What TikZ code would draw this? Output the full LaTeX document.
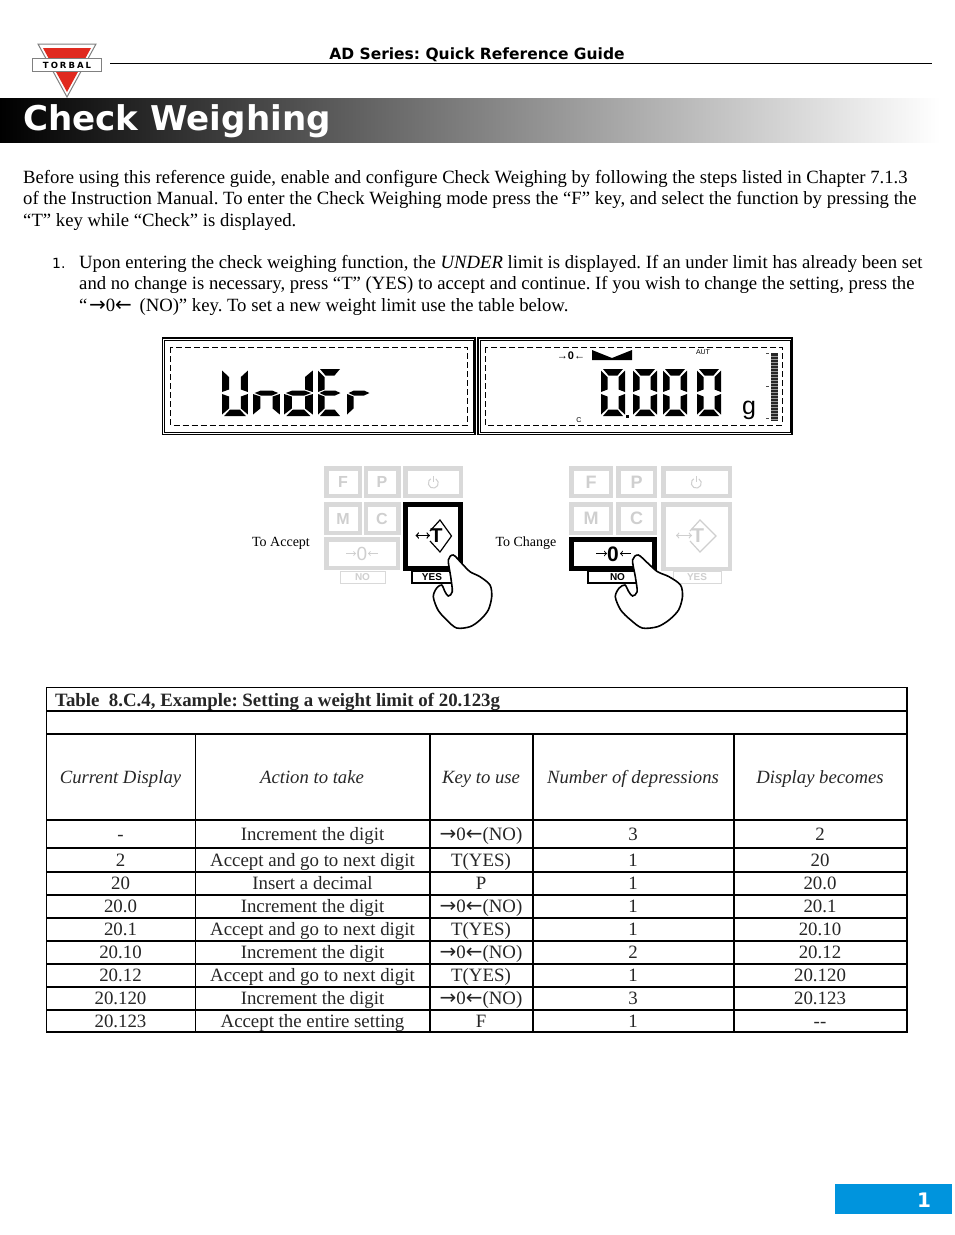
\documentclass[tikz,border=0pt]{standalone}
\usepackage{fontspec}
\usepackage{tikz}
\setmainfont{Liberation Serif}
\setsansfont{Liberation Sans}
\newfontfamily\headfont{DejaVu Sans}

\definecolor{keygray}{HTML}{D9D9D9}
\definecolor{labelgray}{HTML}{CFCFCF}
\definecolor{torbalred}{HTML}{E02A1F}
\definecolor{pageblue}{HTML}{0094DD}

\newcommand{\zeroarrow}{{\headfont\fontsize{20}{15}\selectfont →}0{\headfont\fontsize{20}{15}\selectfont ←}}
\newcommand{\lcddigit}[4][1]{\foreach \s in {#4} \pic[xscale=#1] at (#2,#3) {seg\s};}

\tikzset{
    bodytext/.style={anchor=base west,inner sep=0,font=\fontsize{18.7}{21}\selectfont},
    graykey/.style={draw=keygray,line width=4.5pt,fill=white,inner sep=0,text=labelgray,font=\sffamily\bfseries\fontsize{16}{16}\selectfont},
    graykeybig/.style={graykey,font=\sffamily\bfseries\fontsize{18}{18}\selectfont},
    darkkey/.style={draw=black,line width=5pt,fill=white,inner sep=0,font=\sffamily\bfseries\fontsize{18}{18}\selectfont},
    graytag/.style={draw=keygray,line width=1pt,fill=white,inner sep=0,text=labelgray,font=\sffamily\bfseries\fontsize{10}{10}\selectfont},
    darktag/.style={draw=black,line width=1.5pt,fill=white,inner sep=0,font=\sffamily\bfseries\fontsize{10}{10}\selectfont},
    tablecell/.style={anchor=base,yshift=-5.8pt,inner sep=0,text=black!85,font=\fontsize{18.85}{20}\selectfont},
    tablehead/.style={tablecell,font=\itshape\fontsize{18.7}{20}\selectfont},
    sega/.pic={\fill (2,0) -- (22,0) -- (16.5,6.5) -- (7.5,6.5) -- cycle;},
    segb/.pic={\fill (24,1.5) -- (17.5,8) -- (17.5,20.5) -- (24,23) -- cycle;},
    segc/.pic={\fill (24,25) -- (17.5,27.5) -- (17.5,39.5) -- (24,45.5) -- cycle;},
    segd/.pic={\fill (2,47) -- (7.5,40.5) -- (16.5,40.5) -- (22,47) -- cycle;},
    sege/.pic={\fill (0,25) -- (6.5,27.5) -- (6.5,39.5) -- (0,45.5) -- cycle;},
    segf/.pic={\fill (0,1.5) -- (6.5,8) -- (6.5,20.5) -- (0,23) -- cycle;},
    segg/.pic={\fill (1.5,24) -- (7,21.5) -- (17,21.5) -- (22.5,24) -- (17,26.5) -- (7,26.5) -- cycle;},
    powersym/.pic={\draw[labelgray,line width=1pt] (2.8,-4.2) arc (60:-240:5pt); \draw[labelgray,line width=1pt] (0,-7) -- (0,-1);},
    hand/.pic={\draw[black,line width=1.6pt,fill=white] plot[smooth cycle,tension=0.5] coordinates {
        (-5,5) (0,0) (8.4,8.3) (16.7,16.7) (26.7,21.7) (36.7,30) (38.4,41.7) (35,55)
        (26.7,65) (16.7,71.7) (3.4,73) (-6.6,65) (-15.3,55) (-20,41.7) (-16.6,33)
        (-11.6,30) (-8.3,36.7) (-5,41) (-1,36.7) (-2.6,21.7)};},
}

\begin{document}
\frenchspacing
\begin{tikzpicture}[x=1pt,y=-1pt]
        \useasboundingbox (0,0) rectangle (954,1235);

        % Logo and running head
        \fill[white,draw=gray,line width=1pt] (38,44) -- (96,44) -- (67,97) -- cycle;
        \fill[torbalred] (43,48) -- (91,48) -- (67,92) -- cycle;
        \node (logoband) at (67,65) [draw=gray,line width=1pt,fill=white,minimum width=69,minimum height=13,inner sep=0,font=\headfont\bfseries\fontsize{8.5}{8}\selectfont] {T\kern2pt O\kern2pt R\kern2pt B\kern2pt A\kern2pt L};
        \draw[line width=0.9pt] (110,63.5) -- (932,63.5);
        \node (runhead) at (477,54.6) [inner sep=0,font=\headfont\bfseries\fontsize{15.5}{15}\selectfont] {AD Series: Quick Reference Guide};

        % Title bar
        \shade[left color=black,right color=white] (0,98) rectangle (940,142.7);
        \node (title) at (23,130) [anchor=base west,inner sep=0,text=white,font=\headfont\bfseries\fontsize{34.1}{34}\selectfont] {Check Weighing};

        % Body text
        \node (intro1) at (23,183) [bodytext] {Before using this reference guide, enable and configure Check Weighing by following the steps listed in Chapter 7.1.3};
        \node (intro2) at (23,204) [bodytext] {of the Instruction Manual. To enter the Check Weighing mode press the “F” key, and select the function by pressing the};
        \node (intro3) at (23,226) [bodytext] {“T” key while “Check” is displayed.};
        \node (stepnum) at (52,268) [anchor=base west,inner sep=0,font=\headfont\fontsize{14}{14}\selectfont] {1.};
        \node (step1) at (79,268) [bodytext] {Upon entering the check weighing function, the \textit{UNDER} limit is displayed. If an under limit has already been set};
        \node (step2) at (79,289) [bodytext] {and no change is necessary, press “T” (YES) to accept and continue. If you wish to change the setting, press the};
        \node (step3) at (79,311) [bodytext] {“\kern1.5pt\zeroarrow{}\kern3pt{} (NO)” key. To set a new weight limit use the table below.};

        % Display panels
        \draw[line width=1.5pt] (162.5,338) rectangle (475,434.5);
        \draw[line width=0.7pt] (164.5,340) rectangle (473,432.5);
        \draw[line width=1pt,dash pattern=on 6pt off 3pt] (170.5,347) rectangle (467,425);
        \draw[line width=1.5pt] (478,338) rectangle (792,434.5);
        \draw[line width=0.7pt] (480,340) rectangle (790,432.5);
        \draw[line width=1pt,dash pattern=on 6pt off 3pt] (485,347) rectangle (782,425);

        \lcddigit[1.08]{222}{369}{b,c,d,e,f}
        \lcddigit[1.12]{253}{369}{c,e,g}
        \lcddigit[1.2]{284}{369}{b,c,d,e,g}
        \lcddigit{318}{369}{a,d,e,f,g}
        \lcddigit{347}{369}{e,g}
        \foreach \x in {601,633,663,697}
            \lcddigit{\x}{369}{a,b,c,d,e,f}
        \fill (625.5,414.5) rectangle (628.5,417.5);
        \node (unitg) at (749,414) [anchor=base,inner sep=0,font=\sffamily\fontsize{25}{25}\selectfont] {g};
        \node (zerotag) at (571,356) [inner sep=0,font=\sffamily\bfseries\fontsize{11}{11}\selectfont] {→0←};
        \fill (592,350) -- (612,358) -- (632,350) -- (632,360) -- (592,360) -- cycle;
        \node (auttag) at (703,352) [inner sep=0,font=\sffamily\fontsize{7}{7}\selectfont] {AUT};
        \node (ctag) at (579,420) [inner sep=0,font=\sffamily\fontsize{7}{7}\selectfont] {C};
        \fill[black!85] (771,353) rectangle (778,421);
        \foreach \y in {356,359,...,420}
            \draw[white!60!black,line width=0.3pt] (771,\y) -- (778,\y);
        \foreach \y in {353,386,418}
            \draw[line width=0.8pt,black!70] (766,\y) -- (769,\y);

        % Left keypad
        \node (Lfkey)  at (343,482) [graykey,minimum width=33.5,minimum height=27.5] {F};
        \node (Lpkey)  at (382,482) [graykey,minimum width=32.5,minimum height=27.5] {P};
        \node (Lpower) at (433,482) [graykey,minimum width=55.5,minimum height=27.5] {};
        \node (Lmkey)  at (343,518.5) [graykey,minimum width=33.5,minimum height=28.5] {M};
        \node (Lckey)  at (382,518.5) [graykey,minimum width=32.5,minimum height=28.5] {C};
        \node (Lzero)  at (362,553.5) [graykey,minimum width=71.5,minimum height=28.5,font=\sffamily\fontsize{19}{19}\selectfont] {0};
        \draw[->,labelgray,line width=0.9pt] (346,553.5) -- (356,553.5);
        \draw[->,labelgray,line width=0.9pt] (378,553.5) -- (368,553.5);
        \node (Lnotag) at (362.5,577) [graytag,minimum width=45,minimum height=12] {NO};
        \node (Lyestag) at (432,577) [darktag,minimum width=40,minimum height=12] {YES};
        \node (Ltare)  at (433,536.5) [darkkey,minimum width=55,minimum height=64] {};
        \pic at (433,483) {powersym};
        \draw[line width=1.2pt] (430,531) -- (440,520) -- (451.5,536) -- (440,552) -- (430,541);
        \node (Ltareletter) at (436.5,536) [inner sep=0,font=\sffamily\bfseries\fontsize{20}{20}\selectfont] {T};
        \draw[<->,line width=1.3pt] (415.5,535.5) -- (430,535.5);

        % Right keypad
        \node (Rfkey)  at (591,482) [graykeybig,minimum width=39.5,minimum height=27.5] {F};
        \node (Rpkey)  at (636.5,482) [graykeybig,minimum width=36.5,minimum height=27.5] {P};
        \node (Rpower) at (696.5,482) [graykey,minimum width=66.5,minimum height=27.5] {};
        \node (Rmkey)  at (591,518.5) [graykeybig,minimum width=39.5,minimum height=28.5] {M};
        \node (Rckey)  at (636.5,518.5) [graykeybig,minimum width=36.5,minimum height=28.5] {C};
        \node (Rtare)  at (696.5,536.5) [graykey,minimum width=66.5,minimum height=64.5] {};
        \node (Rnotag) at (617.5,577) [darktag,minimum width=59,minimum height=12] {NO};
        \node (Ryestag) at (697,577) [graytag,minimum width=48,minimum height=12] {YES};
        \node (Rzero)  at (613,554) [darkkey,minimum width=83,minimum height=29,font=\sffamily\bfseries\fontsize{21}{21}\selectfont] {0};
        \draw[->,line width=1pt] (596,553.5) -- (607,553.5);
        \draw[->,line width=1pt] (631,553.5) -- (620,553.5);
        \pic at (696,483) {powersym};
        \draw[labelgray,line width=1.2pt] (690,531) -- (700,520) -- (716,536) -- (700,552) -- (690,541);
        \node (Rtareletter) at (698,536) [inner sep=0,text=labelgray,font=\sffamily\bfseries\fontsize{20}{20}\selectfont] {T};
        \draw[<->,labelgray,line width=1.2pt] (676,535.5) -- (692,535.5);

        \node (Laccept) at (281,543) [inner sep=0,font=\fontsize{14}{14}\selectfont] {To Accept};
        \node (Rchange) at (526,543) [inner sep=0,font=\fontsize{14}{14}\selectfont] {To Change};

        % Pressing hands
        \pic at (453.3,555) {hand};
        \pic[xscale=1.15] at (638.3,555) {hand};

        % Table frame
        \draw[line width=1.3pt] (46.5,687.5) rectangle (907,1032);
        \foreach \y in {711,734,820,848,872,895,918,941,964,987,1010}
            \draw[line width=1.3pt] (46.5,\y) -- (907,\y);
        \foreach \x in {195.5,430,533,734}
            \draw[line width=1.3pt] (\x,734) -- (\x,1032);

        \node (tabletitle) at (55,706.5) [anchor=base west,inner sep=0,text=black!85,font=\bfseries\fontsize{18.85}{20}\selectfont] {Table\ \ 8.C.4, Example: Setting a weight limit of 20.123g};

        \node (headcur) at (120.5,778) [tablehead] {Current Display};
        \node (headact) at (312,778) [tablehead] {Action to take};
        \node (headkey) at (481,778) [tablehead] {Key to use};
        \node (headnum) at (633,778) [tablehead] {Number of depressions};
        \node (headres) at (820,778) [tablehead] {Display becomes};

        % Table rows
        \foreach \y/\cur/\act/\key/\num/\res in {
            835/-/Increment the digit/\zeroarrow(NO)/3/2,
            861/2/Accept and go to next digit/T(YES)/1/20,
            884/20/Insert a decimal/P/1/20.0,
            907/20.0/Increment the digit/\zeroarrow(NO)/1/20.1,
            930/20.1/Accept and go to next digit/T(YES)/1/20.10,
            953/20.10/Increment the digit/\zeroarrow(NO)/2/20.12,
            976/20.12/Accept and go to next digit/T(YES)/1/20.120,
            999/20.120/Increment the digit/\zeroarrow(NO)/3/20.123,
            1022/20.123/Accept the entire setting/F/1/{-}{-}}
        {
            \node (cur\y) at (120.5,\y) [tablecell] {\cur};
            \node (act\y) at (312.5,\y) [tablecell] {\act};
            \node (key\y) at (481,\y) [tablecell] {\key};
            \node (num\y) at (633,\y) [tablecell] {\num};
            \node (res\y) at (820,\y) [tablecell] {\res};
        }

        % Page number
        \node (pagebox) at (893.5,1199) [fill=pageblue,minimum width=117,minimum height=30,inner sep=0] {};
        \node (pagenum) at (924,1200) [inner sep=0,text=white,font=\headfont\bfseries\fontsize{20}{20}\selectfont] {1};
\end{tikzpicture}
\end{document}
